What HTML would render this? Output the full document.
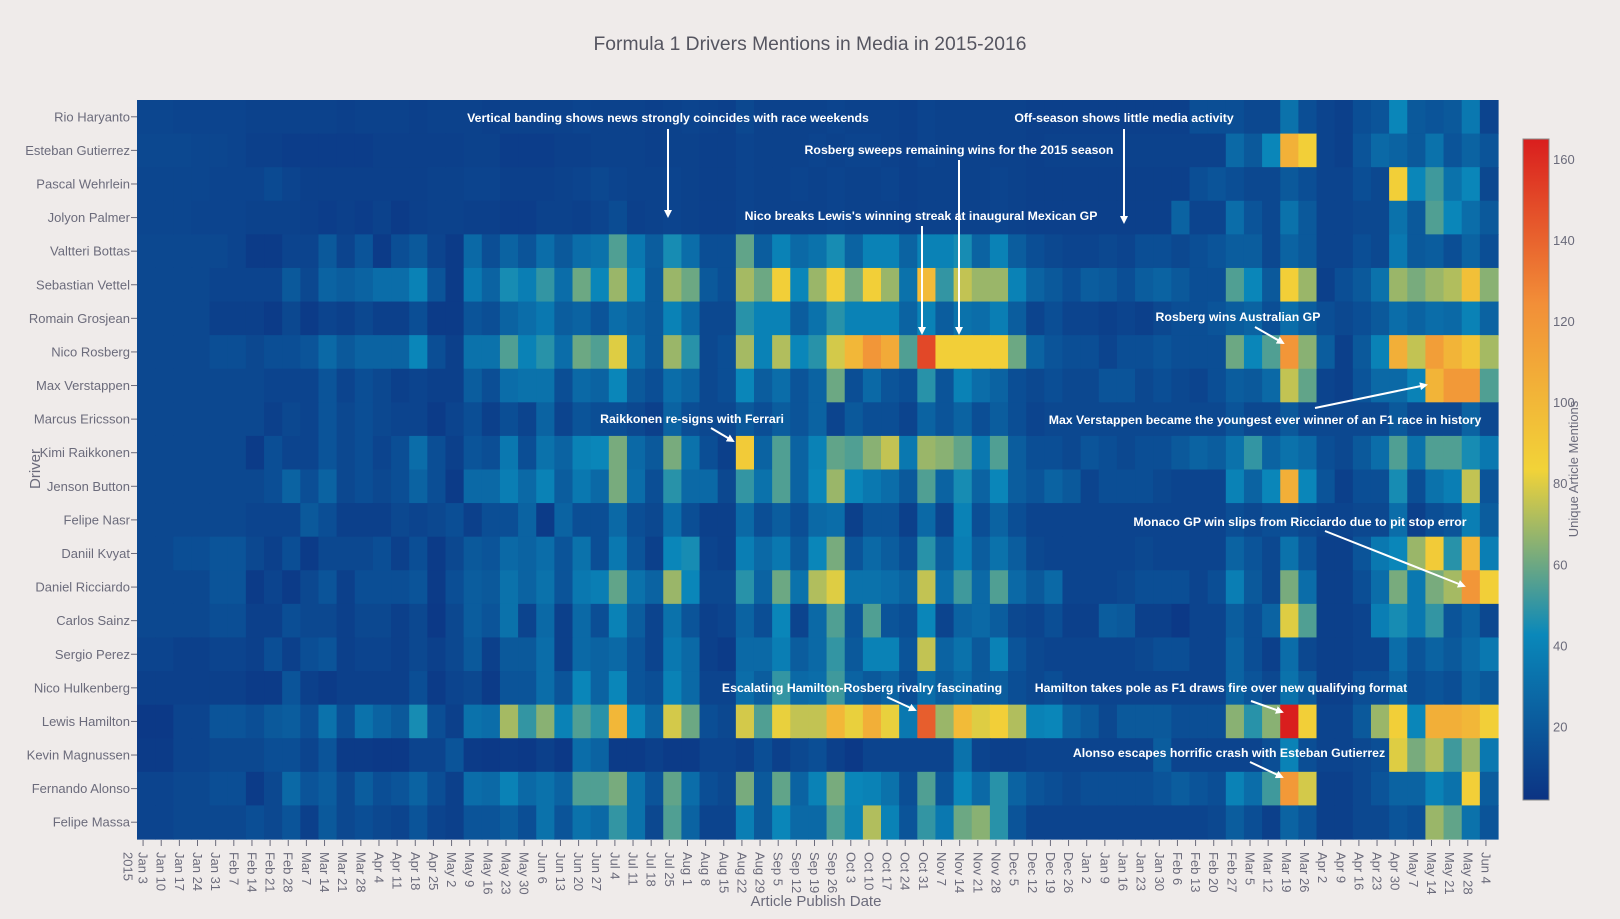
<!DOCTYPE html>
<html><head><meta charset="utf-8">
<style>
html,body{margin:0;padding:0;background:#efebea;}
svg{display:block;font-family:"Liberation Sans",sans-serif;}
</style></head>
<body>
<svg id="chart" width="1620" height="919" viewBox="0 0 1620 919" xmlns="http://www.w3.org/2000/svg">
<defs>
<marker id="ah" markerWidth="8" markerHeight="8" refX="6" refY="4" orient="auto" markerUnits="userSpaceOnUse"><path d="M0,0 L8,4 L0,8 Z" fill="#ffffff"/></marker>
<linearGradient id="cbgrad" x1="0" y1="1" x2="0" y2="0">
<stop offset="0" stop-color="#0c3383"/><stop offset="0.25" stop-color="#0a88ba"/><stop offset="0.5" stop-color="#f2d338"/><stop offset="0.75" stop-color="#f28f38"/><stop offset="1" stop-color="#d91e1e"/>
</linearGradient>
</defs>
<rect x="0" y="0" width="1620" height="919" fill="#efebea"/>
<text x="810" y="50" text-anchor="middle" font-size="19.3" fill="#555560">Formula 1 Drivers Mentions in Media in 2015-2016</text>
<g id="cells"></g>
<g id="yaxis"></g>
<g id="xaxis"></g>
<text transform="translate(40,469) rotate(-90)" text-anchor="middle" font-size="15" fill="#6b6b7b">Driver</text>
<text x="816" y="906" text-anchor="middle" font-size="15" fill="#6b6b7b">Article Publish Date</text>
<g>
<rect x="1523" y="139" width="26" height="661" fill="url(#cbgrad)" stroke="#888" stroke-width="1"/>
<g id="cbticks"></g>
<text transform="translate(1578,469) rotate(-90)" text-anchor="middle" font-size="13" fill="#6b6b7b">Unique Article Mentions</text>
</g>
<g font-size="12.3" font-weight="bold" fill="#ffffff">
<text x="668" y="122" text-anchor="middle">Vertical banding shows news strongly coincides with race weekends</text>
<line x1="668" y1="129" x2="668" y2="216" stroke="#fff" stroke-width="2" marker-end="url(#ah)"/>
<text x="959" y="154" text-anchor="middle">Rosberg sweeps remaining wins for the 2015 season</text>
<line x1="959" y1="160" x2="959" y2="333" stroke="#fff" stroke-width="2" marker-end="url(#ah)"/>
<text x="1124" y="122" text-anchor="middle">Off-season shows little media activity</text>
<line x1="1124" y1="129" x2="1124" y2="222" stroke="#fff" stroke-width="2" marker-end="url(#ah)"/>
<text x="921" y="220" text-anchor="middle">Nico breaks Lewis's winning streak at inaugural Mexican GP</text>
<line x1="922" y1="226" x2="922" y2="333" stroke="#fff" stroke-width="2" marker-end="url(#ah)"/>
<text x="1238" y="321" text-anchor="middle">Rosberg wins Australian GP</text>
<line x1="1255" y1="327" x2="1283" y2="343" stroke="#fff" stroke-width="2" marker-end="url(#ah)"/>
<text x="1265" y="424" text-anchor="middle">Max Verstappen became the youngest ever winner of an F1 race in history</text>
<line x1="1315" y1="408" x2="1426" y2="385" stroke="#fff" stroke-width="2" marker-end="url(#ah)"/>
<text x="692" y="423" text-anchor="middle">Raikkonen re-signs with Ferrari</text>
<line x1="711" y1="428" x2="733" y2="441" stroke="#fff" stroke-width="2" marker-end="url(#ah)"/>
<text x="1300" y="526" text-anchor="middle">Monaco GP win slips from Ricciardo due to pit stop error</text>
<line x1="1325" y1="531" x2="1464" y2="586" stroke="#fff" stroke-width="2" marker-end="url(#ah)"/>
<text x="862" y="692" text-anchor="middle">Escalating Hamilton-Rosberg rivalry fascinating</text>
<line x1="887" y1="697" x2="915" y2="710" stroke="#fff" stroke-width="2" marker-end="url(#ah)"/>
<text x="1221" y="692" text-anchor="middle">Hamilton takes pole as F1 draws fire over new qualifying format</text>
<line x1="1251" y1="701" x2="1282" y2="712" stroke="#fff" stroke-width="2" marker-end="url(#ah)"/>
<text x="1229" y="757" text-anchor="middle">Alonso escapes horrific crash with Esteban Gutierrez</text>
<line x1="1250" y1="762" x2="1282" y2="777" stroke="#fff" stroke-width="2" marker-end="url(#ah)"/>
</g>
</svg>
<script>
const drivers = ["Rio Haryanto","Esteban Gutierrez","Pascal Wehrlein","Jolyon Palmer","Valtteri Bottas","Sebastian Vettel","Romain Grosjean","Nico Rosberg","Max Verstappen","Marcus Ericsson","Kimi Raikkonen","Jenson Button","Felipe Nasr","Daniil Kvyat","Daniel Ricciardo","Carlos Sainz","Sergio Perez","Nico Hulkenberg","Lewis Hamilton","Kevin Magnussen","Fernando Alonso","Felipe Massa"];
const weeks = ["Jan 3","Jan 10","Jan 17","Jan 24","Jan 31","Feb 7","Feb 14","Feb 21","Feb 28","Mar 7","Mar 14","Mar 21","Mar 28","Apr 4","Apr 11","Apr 18","Apr 25","May 2","May 9","May 16","May 23","May 30","Jun 6","Jun 13","Jun 20","Jun 27","Jul 4","Jul 11","Jul 18","Jul 25","Aug 1","Aug 8","Aug 15","Aug 22","Aug 29","Sep 5","Sep 12","Sep 19","Sep 26","Oct 3","Oct 10","Oct 17","Oct 24","Oct 31","Nov 7","Nov 14","Nov 21","Nov 28","Dec 5","Dec 12","Dec 19","Dec 26","Jan 2","Jan 9","Jan 16","Jan 23","Jan 30","Feb 6","Feb 13","Feb 20","Feb 27","Mar 5","Mar 12","Mar 19","Mar 26","Apr 2","Apr 9","Apr 16","Apr 23","Apr 30","May 7","May 14","May 21","May 28","Jun 4"];
const colorTicks = [20,40,60,80,100,120,140,160];
const zRio = [11,11,10,10,10,10, 9,9,9,9,9,8,9,9,9,8,9,9,9,8,9,9,9,9,10,9, 9,9,8,9,10,9,8,12,9,9,9,9,10,9,9,9,8,10,9,9,9,9,9,8, 8,8,8,8,8,8,8,8,15,15,15,12,12,32,15,10,8,15,18,42,20,18,20,35,10];
const zGutierrez = [12,12,12,11,11,10, 8,8,7,7,7,7,7,8,8,8,8,8,9,9,7,7,7,8,8,9, 9,9,8,9,9,8,8,10,9,9,9,10,9,10,10,9,8,10,9,9,9,9,9,8, 9,9,9,9,9,9,9,9,9,9,28,20,42,104,86,10,8,18,28,25,20,32,18,25,18];
const zWehrlein = [11,11,11,11,10,10, 10,13,10,8,8,8,8,8,8,8,9,9,10,10,8,8,8,9,10,12, 10,9,9,10,9,8,8,10,9,9,10,9,10,9,9,10,8,9,9,9,9,10,9,8, 8,8,8,8,8,8,8,8,15,18,15,12,12,20,15,10,10,15,12,86,42,52,32,42,12];
const zPalmer = [11,11,11,10,10,10, 9,9,9,8,7,8,7,9,6,8,9,9,8,8,7,7,9,9,8,10, 14,8,9,10,9,8,8,10,9,9,9,9,10,9,9,9,8,9,9,9,9,10,9,8, 8,8,8,8,8,8,8,25,10,10,30,18,12,32,20,10,10,12,12,32,20,55,42,30,20];
const zBottas = [12,12,12,12,12,10, 6,6,10,10,20,10,18,6,15,20,10,6,28,15,25,18,30,20,30,32, 55,35,22,45,30,15,15,58,22,40,28,32,45,25,40,40,25,40,40,45,25,40,22,15, 12,10,10,12,10,15,15,12,15,18,22,22,12,25,20,10,10,15,12,35,20,22,15,25,15];
const zVettel = [12,12,12,12,10,10, 10,10,20,12,25,22,25,30,30,40,18,6,35,25,45,38,50,30,60,42, 68,42,20,68,60,20,15,70,60,86,42,68,86,62,86,68,32,98,50,75,68,68,40,25, 20,15,22,20,15,22,25,20,15,15,55,42,20,86,68,8,15,20,32,68,62,68,72,95,65];
const zGrosjean = [12,12,12,12,8,8, 8,6,12,6,10,8,12,8,8,15,6,6,18,15,25,30,35,22,25,18, 30,25,20,40,28,12,12,48,40,40,22,32,48,40,40,40,25,40,22,32,30,38,22,10, 15,10,10,8,10,8,12,15,15,18,22,25,15,30,22,15,12,15,20,30,25,30,28,40,25];
const zRosberg = [12,12,12,12,15,15, 12,15,15,18,28,20,25,25,25,42,15,8,32,32,55,40,48,30,60,55, 80,32,20,68,48,12,15,70,40,72,42,48,78,100,120,108,55,150,86,86,86,86,60,25, 18,15,15,10,15,15,18,15,15,15,60,42,55,120,65,22,8,20,40,105,75,115,102,92,70];
const zVerstappen = [12,12,12,12,12,12, 12,10,10,10,18,10,15,12,8,10,8,8,22,15,30,32,32,15,28,25, 42,20,15,30,25,12,15,42,22,30,18,25,60,15,28,18,15,48,18,40,30,25,15,12, 15,12,12,18,18,12,15,12,10,15,22,20,28,75,58,10,8,18,28,28,40,102,118,118,55];
const zEricsson = [12,12,12,12,12,12, 12,8,12,10,18,12,15,12,10,10,6,10,15,8,15,10,25,10,18,15, 15,12,8,25,15,12,12,20,15,22,18,25,10,20,15,15,10,25,18,25,15,22,15,10, 12,12,12,12,12,12,12,12,12,12,18,12,12,20,12,12,12,12,12,20,12,12,12,25,12];
const zRaikkonen = [12,12,12,12,12,12, 6,15,10,10,18,12,15,10,15,30,15,8,18,15,35,15,32,25,40,42, 62,28,20,62,32,15,8,88,25,55,25,40,58,55,65,75,35,68,65,58,35,55,22,15, 15,12,18,15,12,15,15,20,25,22,32,50,25,32,28,15,12,20,30,55,32,55,55,45,35];
const zButton = [12,12,12,12,12,12, 12,15,25,15,25,12,15,12,15,25,15,6,28,28,38,28,40,22,35,28, 62,30,15,48,28,28,12,50,32,55,25,42,68,42,35,30,20,55,25,45,25,42,22,18, 25,20,10,15,15,15,12,10,10,10,40,25,42,105,42,18,8,15,15,45,15,32,38,75,18];
const zNasr = [12,12,12,12,12,12, 10,10,10,20,15,8,8,8,12,10,12,15,8,15,15,25,6,25,15,15, 28,15,12,30,15,8,8,28,15,22,15,28,30,8,18,18,8,28,10,40,15,25,15,10, 10,10,10,10,10,10,10,10,10,10,15,12,15,15,12,10,10,12,12,30,8,15,18,38,22];
const zKvyat = [12,12,15,15,18,18, 12,8,15,6,12,12,12,15,8,15,6,12,20,18,28,25,30,18,32,15, 35,18,8,42,45,10,8,38,28,35,20,42,62,18,28,22,15,48,22,38,22,32,22,12, 10,10,10,10,10,12,10,10,10,10,25,18,12,32,18,8,8,18,35,42,68,88,48,100,38];
const zRicciardo = [12,12,12,12,18,18, 6,10,6,12,18,8,15,15,15,18,6,15,22,20,32,25,32,18,35,38, 58,32,25,68,42,12,12,48,25,60,32,72,80,32,32,30,25,75,30,52,28,55,28,20, 28,10,10,10,12,15,15,15,10,15,38,20,12,62,30,8,8,15,30,62,35,62,70,120,86];
const zSainz = [12,12,12,12,15,15, 8,8,15,12,12,8,12,12,8,12,5,12,22,18,32,10,28,8,28,15, 40,22,10,32,18,8,10,25,15,42,10,28,55,18,55,18,15,42,10,25,28,22,12,10, 15,8,8,22,20,8,8,5,10,10,22,15,25,80,55,8,8,10,38,45,35,50,18,25,12];
const zPerez = [10,10,8,8,10,10, 8,15,8,15,18,8,10,10,8,12,8,12,20,8,20,20,30,8,28,25, 28,18,10,35,28,8,6,28,28,38,22,28,50,20,40,40,18,75,25,32,20,40,18,12, 10,10,10,10,10,12,15,15,10,10,25,15,8,30,12,8,8,10,10,30,18,25,20,28,35];
const zHulkenberg = [8,8,8,8,8,8, 6,6,18,8,6,8,8,8,8,15,6,10,12,6,18,18,30,18,42,25, 42,18,15,40,28,10,10,30,22,50,28,30,52,25,20,25,15,30,22,28,20,22,15,12, 15,10,10,10,10,10,10,10,10,10,25,18,12,32,20,8,8,15,15,25,15,18,15,25,20];
const zHamilton = [5,5,10,10,18,18, 15,20,22,15,32,15,32,25,20,45,15,8,32,30,70,50,65,40,55,48, 100,42,25,78,60,15,12,78,55,82,75,75,100,82,105,82,35,142,68,98,80,86,72,40, 42,25,20,12,20,20,20,15,15,15,65,48,65,165,86,10,10,20,68,86,42,105,105,100,86];
const zMagnussen = [6,6,10,10,12,12, 12,15,15,10,18,6,6,5,5,10,10,18,6,5,6,5,8,5,30,25, 6,6,8,6,6,10,10,8,15,8,12,15,8,5,10,10,10,10,10,32,10,8,8,10, 10,10,10,10,10,10,22,10,10,10,10,10,15,40,15,10,10,12,15,80,62,72,52,68,35];
const zAlonso = [10,10,12,12,15,15, 6,12,28,18,22,12,22,15,18,25,15,8,30,28,40,28,32,25,55,55, 62,32,18,58,30,15,12,62,20,58,25,40,62,42,40,32,15,55,18,42,28,48,25,18, 15,12,15,15,15,15,18,22,18,15,40,30,52,118,78,8,8,12,18,25,25,40,32,86,22];
const zMassa = [10,10,12,12,12,12, 15,12,18,8,20,12,15,12,10,18,10,8,18,18,22,15,32,18,32,28, 50,32,12,55,25,10,10,38,20,42,28,28,55,40,72,40,18,50,35,60,65,48,18,10, 10,10,10,10,10,10,10,10,10,12,22,15,8,25,18,8,8,12,12,18,15,68,58,32,18];
const zRows = [zRio,zGutierrez,zWehrlein,zPalmer,zBottas,zVettel,zGrosjean,zRosberg,zVerstappen,zEricsson,zRaikkonen,zButton,zNasr,zKvyat,zRicciardo,zSainz,zPerez,zHulkenberg,zHamilton,zMagnussen,zAlonso,zMassa];

const NS = "http://www.w3.org/2000/svg";
const PX0 = 137, PX1 = 1498, PY0 = 100, PY1 = 839;
const ZMIN = 2, ZMAX = 165;
const colW = (PX1 - PX0) / weeks.length;
const rowH = (PY1 - PY0) / drivers.length;
function xScale(i){ return PX0 + i * colW; }
function yScale(j){ return PY0 + j * rowH; }
const stops = [[0,[12,51,131]],[0.25,[10,136,186]],[0.5,[242,211,56]],[0.75,[242,143,56]],[1,[217,30,30]]];
function colorFor(v){
  let t = Math.max(0, Math.min(1, (v - ZMIN) / (ZMAX - ZMIN)));
  for (let k = 1; k < stops.length; k++) {
    if (t <= stops[k][0]) {
      const a = stops[k-1], b = stops[k];
      const f = (t - a[0]) / (b[0] - a[0]);
      const c = a[1].map((ch, m) => Math.round(ch + (b[1][m] - ch) * f));
      return "rgb(" + c.join(",") + ")";
    }
  }
  return "rgb(217,30,30)";
}
function mk(tag, attrs){ const e = document.createElementNS(NS, tag); for (const k in attrs) e.setAttribute(k, attrs[k]); return e; }

const cells = document.getElementById("cells");
zRows.forEach((row, j) => {
  row.forEach((v, i) => {
    const r = mk("rect", {x: xScale(i).toFixed(2), y: yScale(j).toFixed(2), width: (colW + 0.6).toFixed(2), height: (rowH + 0.6).toFixed(2), fill: colorFor(v)});
    
    
    cells.appendChild(r);
  });
});

const yaxis = document.getElementById("yaxis");
drivers.forEach((d, j) => {
  const cy = yScale(j) + rowH / 2;
  const t = mk("text", {x: 130, y: (cy + 4.5).toFixed(1), "text-anchor": "end", "font-size": 13, fill: "#6b6b7b"});
  t.textContent = d;
  
  
  yaxis.appendChild(t);
  const l = mk("line", {x1: 131, x2: 137, y1: cy, y2: cy, stroke: "#6b6b7b", "stroke-width": 1});
  
  
  yaxis.appendChild(l);
});

const xaxis = document.getElementById("xaxis");
weeks.forEach((w, i) => {
  const cx = xScale(i) + colW / 2 - 3;
  const l = mk("line", {x1: cx, x2: cx, y1: 840, y2: 846, stroke: "#6b6b7b", "stroke-width": 1});
  
  
  xaxis.appendChild(l);
  const t = mk("text", {transform: "translate(" + (cx - 4.5).toFixed(1) + ",852) rotate(90)", "font-size": 13, fill: "#6b6b7b"});
  t.textContent = w;
  
  
  xaxis.appendChild(t);
  if (i === 0) {
    const t2 = mk("text", {transform: "translate(" + (cx - 19.5).toFixed(1) + ",852) rotate(90)", "font-size": 13, fill: "#6b6b7b"});
    t2.textContent = "2015";
    
    
    xaxis.appendChild(t2);
  }
});

const cb = document.getElementById("cbticks");
const CB0 = 139, CB1 = 800;
function cbY(v){ return CB1 - (v - ZMIN) / (ZMAX - ZMIN) * (CB1 - CB0); }
colorTicks.forEach(v => {
  const t = mk("text", {x: 1553, y: (cbY(v) + 4.5).toFixed(1), "font-size": 13, fill: "#6b6b7b"});
  t.textContent = v;
  
  
  cb.appendChild(t);
});
</script>
</body></html>
